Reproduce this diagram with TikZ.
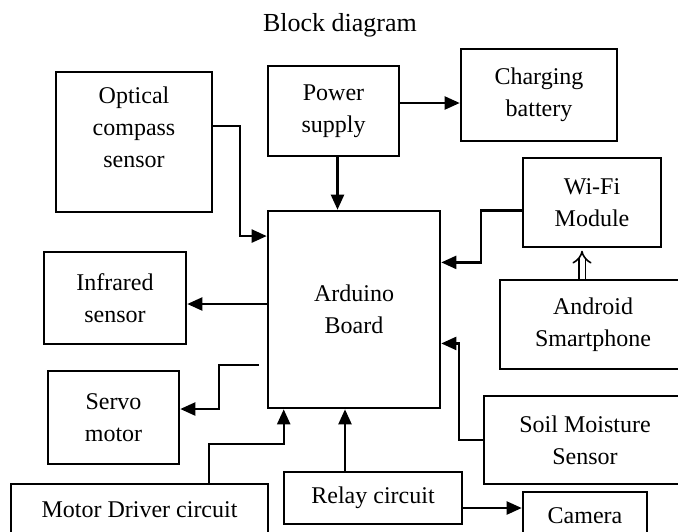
\documentclass[tikz,border=0pt]{standalone}
\usepackage{fontspec}
\setmainfont{Liberation Serif}
\usetikzlibrary{arrows.meta,calc}

\begin{document}
\begin{tikzpicture}[x=0.5pt, y=-0.5pt,
    blk/.style={draw, line width=1.3pt, align=center, inner sep=0pt,
                font=\fontsize{12}{16}\selectfont},
    arr/.style={line width=1.1pt, -{Triangle[length=7.5pt, width=6.5pt]}}]
  \useasboundingbox (0,0) rectangle (678,531);
  \node (ttl) at (340,25) {\fontsize{13}{16}\selectfont Block diagram};

  % blocks
  \node[blk, minimum width=78pt, minimum height=70pt] (opt) at (134,142) {Optical\\compass\\sensor\\[-1pt]};
  \node[blk, minimum width=65.5pt, minimum height=45pt] (pwr) at (333.5,111) {Power\\supply};
  \node[blk, minimum width=78pt, minimum height=46pt] (chg) at (539,95) {Charging\\battery};
  \node[blk, minimum width=69pt, minimum height=44.5pt] (wifi) at (592,202.5) {Wi-Fi\\Module};
  \node[blk, minimum width=86pt, minimum height=98.5pt] (ard) at (354,309.5) {Arduino\\Board};
  \node[blk, minimum width=71pt, minimum height=46pt] (ir) at (115,298) {Infrared\\sensor};
  \node[blk, minimum width=65.5pt, minimum height=46.5pt] (servo) at (113.5,417.5) {Servo\\motor};
  \node[blk, minimum width=128.5pt, minimum height=26pt] (motor) at (139.5,510) {Motor Driver circuit};
  \node[blk, minimum width=89pt, minimum height=26pt] (relay) at (373,498) {Relay circuit};
  \node[blk, minimum width=62pt, minimum height=24pt] (cam) at (585,516) {Camera};
  \node[blk, minimum width=93pt, minimum height=44.5pt] (andr) at (593,324.5) {Android\\Smartphone};
  \node[blk, minimum width=101pt, minimum height=44pt] (soil) at (585,440) {Soil Moisture\\Sensor};

  % connectors
  \draw[arr] ($(opt.north east)!.386!(opt.south east)$) -- ++(27,0)
    |- ($(ard.north west)!.132!(ard.south west)$);
  \draw[arr] ([xshift=2pt]pwr.south) -- ([xshift=2pt]pwr.south |- ard.north);
  \draw[arr] ([yshift=4pt]pwr.east) -- ([yshift=4pt]pwr.east -| chg.west);
  \draw[arr] ([yshift=-4pt]wifi.west) -- ++(-41,0)
    |- ($(ard.north east)!.264!(ard.south east)$);
  \draw[double, double distance=2.5pt, line width=0.8pt, -{Implies}]
    ([xshift=-5.5pt]andr.north) -- ++(0,-28);
  \draw[arr] ([yshift=2.75pt]ard.west) -- ([yshift=2.75pt]ard.west -| ir.east);
  \draw[arr] ($(ard.north west)!.777!(ard.south west)+(-8,0)$) -- ++(-40,0)
    |- ([yshift=4.25pt]servo.east);
  \draw[arr] ([xshift=34.75pt]motor.north) -- ++(0,-39) -| ([xshift=8.5pt]ard.south west);
  \draw[arr] ([xshift=-14pt]relay.north) -- ([xshift=-14pt]relay.north |- ard.south);
  \draw[arr] (soil.west) -- ++(-24,0) |- ($(ard.north east)!.67!(ard.south east)$);
  \draw[arr] ([yshift=-5pt]relay.east) -- ([yshift=-5pt]relay.east -| cam.west);
\end{tikzpicture}
\end{document}
